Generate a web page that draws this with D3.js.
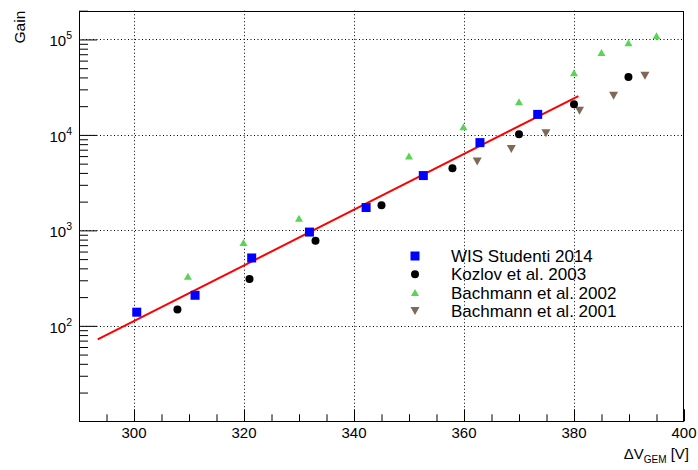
<!DOCTYPE html>
<html><head><meta charset="utf-8">
<script src="https://cdn.jsdelivr.net/npm/d3@7"></script>
<style>
html,body{margin:0;padding:0;background:#fff;}
svg{display:block;}
text{font-family:"Liberation Sans",Arial,Helvetica,sans-serif;fill:#000;}
</style></head>
<body>
<svg id="c" width="698" height="470"></svg>
<script>
// ---- data ----
const wisV    = [300.5, 311.1, 321.4, 331.9, 342.2, 352.6, 362.9, 373.4];
const wisGain = [139, 209, 514, 960, 1735, 3750, 8300, 16400];
const kozV    = [307.9, 321.0, 333.0, 345.0, 357.9, 370.0, 380.0, 389.9];
const kozGain = [148, 310, 778, 1836, 4480, 10140, 21000, 40500];
const b02V    = [309.8, 319.9, 330.0, 350.0, 359.9, 370.0, 380.0, 385.0, 389.9, 395.0];
const b02Gain = [331, 748, 1343, 6030, 12190, 22200, 44700, 72900, 92500, 109000];
const b01V    = [362.4, 368.6, 374.9, 381.0, 387.2, 392.9];
const b01Gain = [5250, 7130, 10400, 17900, 25700, 41600];
const fitV    = [293.4, 380.8];
const fitGain = [72, 25500];
const xTicksMajor = [300, 320, 340, 360, 380, 400];
const yDecades = [2, 3, 4, 5];
const legendLabels = ["WIS Studenti 2014", "Kozlov et al. 2003", "Bachmann et al. 2002", "Bachmann et al. 2001"];
const xTitle = ["\u0394V", "GEM", " [V]"];
const yTitle = "Gain";

// ---- layout ----
const L = 79, R = 684, T = 10.7, B = 421.3;
const svg = d3.select("#c");
const x = d3.scaleLinear().domain([290, 400]).range([L, R]);
const y = d3.scaleLog().domain([10, 2e5]).range([B, T]);

const BLUE = "#0000ff", BLACK = "#000000", GREEN = "#59d454", BROWN = "#7f6858";

// grid
const grid = svg.append("g").attr("stroke", "#000").attr("stroke-width", 1).attr("stroke-dasharray", "1,2.5");
xTicksMajor.filter(v => v < 400).forEach(v => {
  grid.append("line").attr("x1", Math.round(x(v)) + 0.5).attr("x2", Math.round(x(v)) + 0.5)
    .attr("y1", T).attr("y2", B);
});
yDecades.forEach(d => {
  const yy = Math.round(y(Math.pow(10, d))) + 0.5;
  grid.append("line").attr("x1", L).attr("x2", R).attr("y1", yy).attr("y2", yy);
});

// axes using d3 axis generators
const xMinor = d3.range(295, 400, 5).filter(v => xTicksMajor.indexOf(v) < 0);
svg.append("g").attr("transform", `translate(0,${B})`)
  .call(d3.axisTop(x).tickValues(xMinor).tickSize(7).tickFormat(""))
  .call(g => g.select(".domain").remove());
svg.append("g").attr("transform", `translate(0,${B})`)
  .call(d3.axisTop(x).tickValues(xTicksMajor).tickSize(12).tickFormat(""))
  .call(g => g.select(".domain").remove());

const yMinor = [];
[1, 2, 3, 4, 5].forEach(d => { for (let k = 2; k <= 9; k++) { const v = k * Math.pow(10, d); if (v <= 2e5) yMinor.push(v); } });
svg.append("g").attr("transform", `translate(${L},0)`)
  .call(d3.axisRight(y).tickValues(yMinor).tickSize(9).tickFormat(""))
  .call(g => g.select(".domain").remove());
svg.append("g").attr("transform", `translate(${L},0)`)
  .call(d3.axisRight(y).tickValues(yDecades.map(d => Math.pow(10, d))).tickSize(18).tickFormat(""))
  .call(g => g.select(".domain").remove());
svg.selectAll(".tick line").attr("stroke", "#000").attr("stroke-width", 1);

// x tick labels
xTicksMajor.forEach(v => {
  svg.append("text").attr("x", x(v)).attr("y", B + 17).attr("text-anchor", "middle")
    .attr("font-size", 15).text(v);
});
// y tick labels
yDecades.forEach(d => {
  const t = svg.append("text").attr("x", 72).attr("y", y(Math.pow(10, d)) + 7).attr("text-anchor", "end").attr("font-size", 15);
  t.append("tspan").text("10");
  t.append("tspan").attr("font-size", 10.5).attr("dy", -7).text(d);
});

// axis titles
const xt = svg.append("text").attr("x", 689).attr("y", 459).attr("text-anchor", "end").attr("font-size", 15);
xt.append("tspan").text(xTitle[0]);
xt.append("tspan").attr("font-size", 10).attr("dy", 4).text(xTitle[1]);
xt.append("tspan").attr("dy", -4).text(xTitle[2]);
svg.append("text").attr("transform", `translate(25,${T}) rotate(-90)`).attr("text-anchor", "end")
  .attr("font-size", 15.5).text(yTitle);

// frame
svg.append("rect").attr("x", L + 0.5).attr("y", Math.round(T) + 0.5).attr("width", R - L - 1).attr("height", Math.round(B) - Math.round(T))
  .attr("fill", "none").attr("stroke", "#000").attr("stroke-width", 1);

// fit line
const line = d3.line().x(d => x(d[0])).y(d => y(d[1]));
svg.append("path").datum(fitV.map((v, i) => [v, fitGain[i]])).attr("d", line)
  .attr("fill", "none").attr("stroke", "#ff0000").attr("stroke-width", 2);

// markers
function square(g, cx, cy, c) { g.append("rect").attr("x", cx - 4.5).attr("y", cy - 4.5).attr("width", 9).attr("height", 9).attr("fill", c); }
function circle(g, cx, cy, c) { g.append("circle").attr("cx", cx).attr("cy", cy).attr("r", 4).attr("fill", c); }
function triUp(g, cx, cy, c) { g.append("path").attr("d", `M${cx - 4},${cy + 3.5}L${cx + 4},${cy + 3.5}L${cx},${cy - 3.5}Z`).attr("fill", c); }
function triDown(g, cx, cy, c) { g.append("path").attr("d", `M${cx - 4.5},${cy - 4}L${cx + 4.5},${cy - 4}L${cx},${cy + 4}Z`).attr("fill", c); }

const mk = svg.append("g");
const series = [
  [b02V, b02Gain, triUp, GREEN],
  [b01V, b01Gain, triDown, BROWN],
  [kozV, kozGain, circle, BLACK],
  [wisV, wisGain, square, BLUE]
];
series.forEach(s => s[0].forEach((v, i) => s[2](mk, x(v), y(s[1][i]), s[3])));

// legend
const legMarkers = [[square, BLUE], [circle, BLACK], [triUp, GREEN], [triDown, BROWN]];
const lg = svg.append("g");
legendLabels.forEach((lab, i) => {
  const cy = 256 + i * 18.3;
  legMarkers[i][0](lg, 415, cy, legMarkers[i][1]);
  lg.append("text").attr("x", 451).attr("y", cy + 6).attr("font-size", 17).text(lab);
});
</script>
</body></html>
